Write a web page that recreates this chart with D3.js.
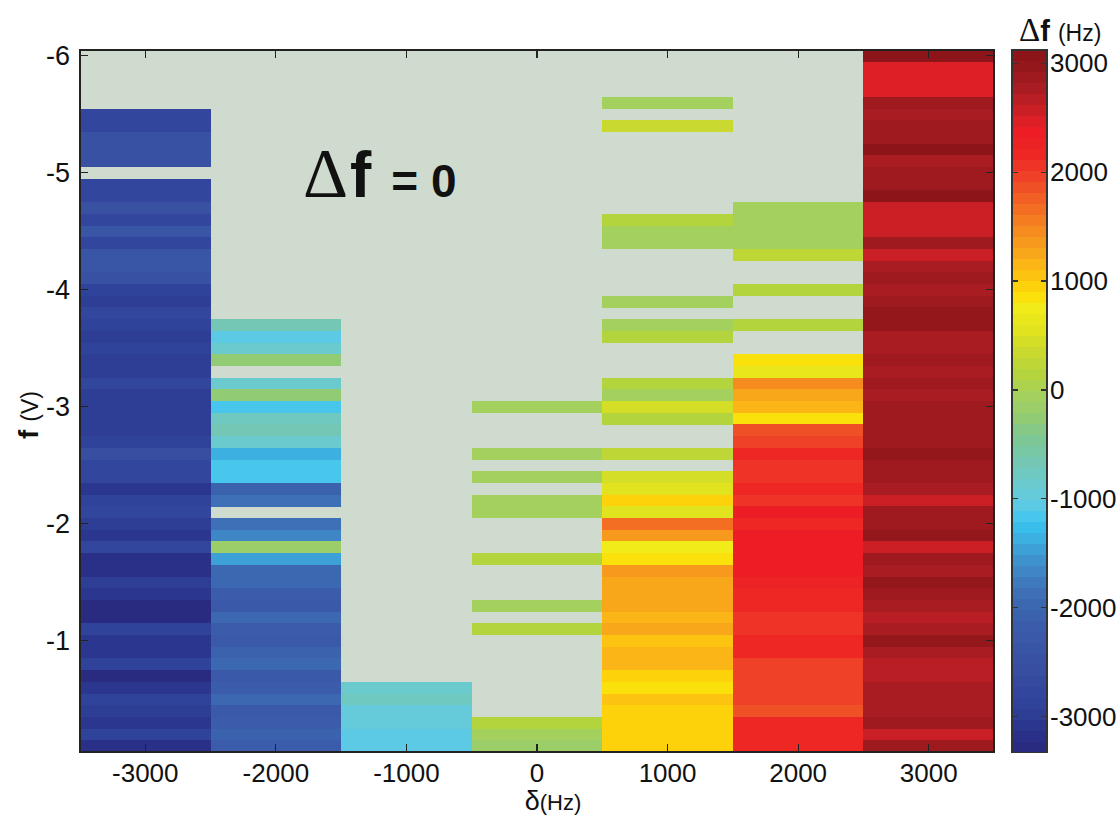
<!DOCTYPE html>
<html><head><meta charset="utf-8">
<script src="https://cdn.jsdelivr.net/npm/d3@7"></script>
<style>
html,body{margin:0;padding:0;background:#fff;}
text{font-family:"Liberation Sans",Arial,sans-serif;fill:#111;}
</style></head>
<body><svg id="c" width="1117" height="816"></svg>
<script>
const N = null;
// detuning categories (Hz)
const deltas = [-3000, -2000, -1000, 0, 1000, 2000, 3000];
// f rows (V), top to bottom
const fValues = [-6.0,-5.9,-5.8,-5.7,-5.6,-5.5,-5.4,-5.3,-5.2,-5.1,
  -5.0,-4.9,-4.8,-4.7,-4.6,-4.5,-4.4,-4.3,-4.2,-4.1,
  -4.0,-3.9,-3.8,-3.7,-3.6,-3.5,-3.4,-3.3,-3.2,-3.1,
  -3.0,-2.9,-2.8,-2.7,-2.6,-2.5,-2.4,-2.3,-2.2,-2.1,
  -2.0,-1.9,-1.8,-1.7,-1.6,-1.5,-1.4,-1.3,-1.2,-1.1,
  -1.0,-0.9,-0.8,-0.7,-0.6,-0.5,-0.4,-0.3,-0.2,-0.1];
// Δf (Hz) per column, one value per f row; null = Δf = 0 region
const df_m3000 = [N,N,N,N,N, -2780,-2780,-2430,-2430,-2430, N,-2780,-2780,-2480,-2780,
  -2380,-2780,-2380,-2380,-2430, -2830,-2980,-2780,-2830,-2980, -2830,-2980,-2980,-2780,-2980,
  -2980,-2980,-2980,-2830,-2580, -2780,-2780,-3080,-2830,-2780, -2980,-3080,-2780,-3180,-3180,
  -2980,-3080,-3250,-3250,-2830, -3030,-3080,-2830,-3250,-3030, -2830,-2980,-3030,-2830,-3180];
const df_m2000 = [N,N,N,N,N, N,N,N,N,N, N,N,N,N,N, N,N,N,N,N,
  N,N,N,-680,-1080, -900,-300,N,-900,-300,
  -1150,-780,-680,-900,-1380, -1130,-1130,-2030,-1850,N, -1850,-1700,-180,-1450,-1950,
  -1950,-2130,-2230,-1950,-2150, -2230,-2050,-1930,-2280,-2150, -1930,-2280,-2150,-2100,-2150];
const df_m1000 = [N,N,N,N,N, N,N,N,N,N, N,N,N,N,N, N,N,N,N,N, N,N,N,N,N, N,N,N,N,N,
  N,N,N,N,N, N,N,N,N,N, N,N,N,N,N, N,N,N,N,N,
  N,N,N,N,-900, -730,-950,-950,-1050,-1050];
const df_0 = [N,N,N,N,N, N,N,N,N,N, N,N,N,N,N, N,N,N,N,N, N,N,N,N,N, N,N,N,N,N,
  -30,N,N,N,-30, N,-30,N,-30,-30, N,N,N,170,N, N,N,-30,N,170, N,N,N,N,N, N,N,170,-30,-180];
const df_1000 = [N,N,N,N,-30, N,370,N,N,N, N,N,N,N,170, -30,-30,N,N,N,
  N,-30,N,-30,170, N,N,N,170,-30,
  470,170,N,N,270, N,470,570,970,570, 1670,1370,770,870,1370,
  1270,1270,1270,1170,1270, 1070,1170,1170,970,870, 1070,970,970,970,970];
const df_2000 = [N,N,N,N,N, N,N,N,N,N, N,N,N,-80,-80, -80,-80,270,N,N,
  170,N,N,170,N, N,870,670,1470,1270,
  1170,870,1870,1970,2170, 2070,2070,2170,2070,2370, 2170,2370,2370,2370,2370,
  2300,2170,2170,2070,2070, 2170,2170,1970,1970,1970, 1970,1870,2170,2170,2170];
const df_3000 = [3070,2470,2470,2470,2870, 2770,2870,2900,3100,2770, 2870,2900,3100,2570,2570,
  2570,2870,2570,2770,2870, 2770,2870,3000,3000,2770, 2770,2870,2770,2870,2770,
  2870,2870,2870,2870,3000, 2870,2870,2770,2570,2870, 2870,3000,2570,2870,2770,
  3000,2870,2770,2670,2770, 3000,2770,2670,2670,2770, 2770,2770,2870,2570,2870];
const columns = [df_m3000, df_m2000, df_m1000, df_0, df_1000, df_2000, df_3000];
const xTicks = [-3000,-2000,-1000,0,1000,2000,3000];
const yTicks = [-6,-5,-4,-3,-2,-1];
const cbTicks = [3000,2000,1000,0,-1000,-2000,-3000];
const cMin = -3331, cMax = 3122, nColors = 64;

// colormap stops
const cmapV = [-3330,-3130,-2930,-2730,-2430,-2130,-1930,-1730,-1530,-1230,-1130,-1030,-830,-630,-430,-230,-30,170,370,570,770,870,970,1170,1370,1570,1770,1970,2170,2370,2470,2570,2770,2970,3120];
const cmapC = ["#28287c","#2a338a","#2f4198","#34489e","#3953a4","#3a5eab","#3c6ab3","#407ec0","#3e98d2","#38c3ee","#52c8ea","#62cbe2","#6ccaca","#74c7b0","#7ec792","#94cc70","#a6d05a","#b6d43b","#cbda2e","#e2e41c","#f2ec1a","#fbdf08","#fdd00b","#fbb317","#f7971d","#f47b21","#f15e24","#ee4027","#ee2624","#ec1d24","#dc1f26","#c91f25","#a81c22","#94171c","#8a1418"];
const cont = d3.scaleLinear().domain(cmapV).range(cmapC).interpolate(d3.interpolateRgb).clamp(true);
const binW = (cMax - cMin) / nColors;
function colorOf(v){
  let b = Math.floor((v - cMin) / binW);
  b = Math.max(0, Math.min(nColors - 1, b));
  return cont(cMin + (b + 0.5) * binW);
}

const svg = d3.select("#c");
const L = 80, R = 994, T = 50, B = 752;
const x = d3.scaleLinear().domain([-3500, 3500]).range([L, R]);
const y = d3.scaleLinear().domain([-6.05, -0.05]).range([T, B]);

// background (Δf = 0)
svg.append("rect").attr("x", L).attr("y", T).attr("width", R - L).attr("height", B - T).attr("fill", "#cfdbcf");

const cells = svg.append("g").attr("shape-rendering", "crispEdges");
columns.forEach((col, i) => {
  const d = deltas[i];
  col.forEach((v, k) => {
    if (v === null) return;
    const f = fValues[k];
    cells.append("rect")
      .attr("x", x(d - 500)).attr("width", x(d + 500) - x(d - 500))
      .attr("y", y(f - 0.05)).attr("height", y(f + 0.05) - y(f - 0.05) + 0.3)
      .attr("fill", colorOf(v));
  });
});

// axes box and inward ticks
const ax = svg.append("g").attr("stroke", "#222").attr("stroke-width", 1.2).attr("fill", "none").attr("shape-rendering", "crispEdges");
ax.append("rect").attr("x", L).attr("y", T).attr("width", R - L).attr("height", B - T);
const tl = 8;
xTicks.forEach(t => {
  ax.append("line").attr("x1", x(t)).attr("x2", x(t)).attr("y1", B).attr("y2", B - tl);
  ax.append("line").attr("x1", x(t)).attr("x2", x(t)).attr("y1", T).attr("y2", T + tl);
});
yTicks.forEach(t => {
  ax.append("line").attr("x1", L).attr("x2", L + tl).attr("y1", y(t)).attr("y2", y(t));
  ax.append("line").attr("x1", R).attr("x2", R - tl).attr("y1", y(t)).attr("y2", y(t));
});

// tick labels
svg.append("g").selectAll("text").data(xTicks).join("text")
  .attr("x", d => x(d)).attr("y", 782).attr("text-anchor", "middle")
  .attr("font-size", 26).text(d => d);
svg.append("g").selectAll("text").data(yTicks).join("text")
  .attr("x", 70).attr("y", d => y(d) + 9).attr("text-anchor", "end")
  .attr("font-size", 27).text(d => d);

// axis titles
const xt = svg.append("text").attr("x", 553).attr("y", 810).attr("text-anchor", "middle");
xt.append("tspan").attr("font-size", 27).text("δ");
xt.append("tspan").attr("font-size", 22).text("(Hz)");
const yt = svg.append("text").attr("transform", "translate(38,415) rotate(-90)").attr("text-anchor", "middle");
yt.append("tspan").attr("font-size", 28).attr("font-weight", "bold").text("f ");
yt.append("tspan").attr("font-size", 23).text("(V)");

// annotation
const an = svg.append("text").attr("x", 303).attr("y", 197);
an.append("tspan").attr("font-size", 70).attr("font-family", "Liberation Serif").text("Δ");
an.append("tspan").attr("font-size", 64).attr("font-weight", "bold").attr("dx", 2).text("f");
an.append("tspan").attr("font-size", 46).attr("font-weight", "bold").attr("dx", 20).text("= 0");

// colorbar
const cbL = 1012, cbR = 1047;
const cy = d3.scaleLinear().domain([cMin, cMax]).range([752.7, 50]);
const cbg = svg.append("g").attr("shape-rendering", "crispEdges");
d3.range(nColors).forEach(b => {
  const v0 = cMin + b * binW, v1 = v0 + binW;
  cbg.append("rect").attr("x", cbL).attr("width", cbR - cbL)
    .attr("y", cy(v1)).attr("height", cy(v0) - cy(v1) + 0.3)
    .attr("fill", cont(v0 + binW / 2));
});
const cba = svg.append("g").attr("stroke", "#333").attr("stroke-width", 1.2).attr("fill", "none").attr("shape-rendering", "crispEdges");
cba.append("rect").attr("x", cbL).attr("y", cy(cMax)).attr("width", cbR - cbL).attr("height", cy(cMin) - cy(cMax));
cbTicks.forEach(t => {
  cba.append("line").attr("x1", cbL).attr("x2", cbL + 6).attr("y1", cy(t)).attr("y2", cy(t));
  cba.append("line").attr("x1", cbR).attr("x2", cbR - 6).attr("y1", cy(t)).attr("y2", cy(t));
});
svg.append("g").selectAll("text").data(cbTicks).join("text")
  .attr("x", 1050).attr("y", d => cy(d) + 9).attr("font-size", 26).text(d => d);
const ct = svg.append("text").attr("x", 1019).attr("y", 41);
ct.append("tspan").attr("font-size", 33).attr("font-family", "Liberation Serif").text("Δ");
ct.append("tspan").attr("font-size", 29).attr("font-weight", "bold").text("f");
ct.append("tspan").attr("font-size", 23).attr("dx", 8).text("(Hz)");
</script></body></html>
